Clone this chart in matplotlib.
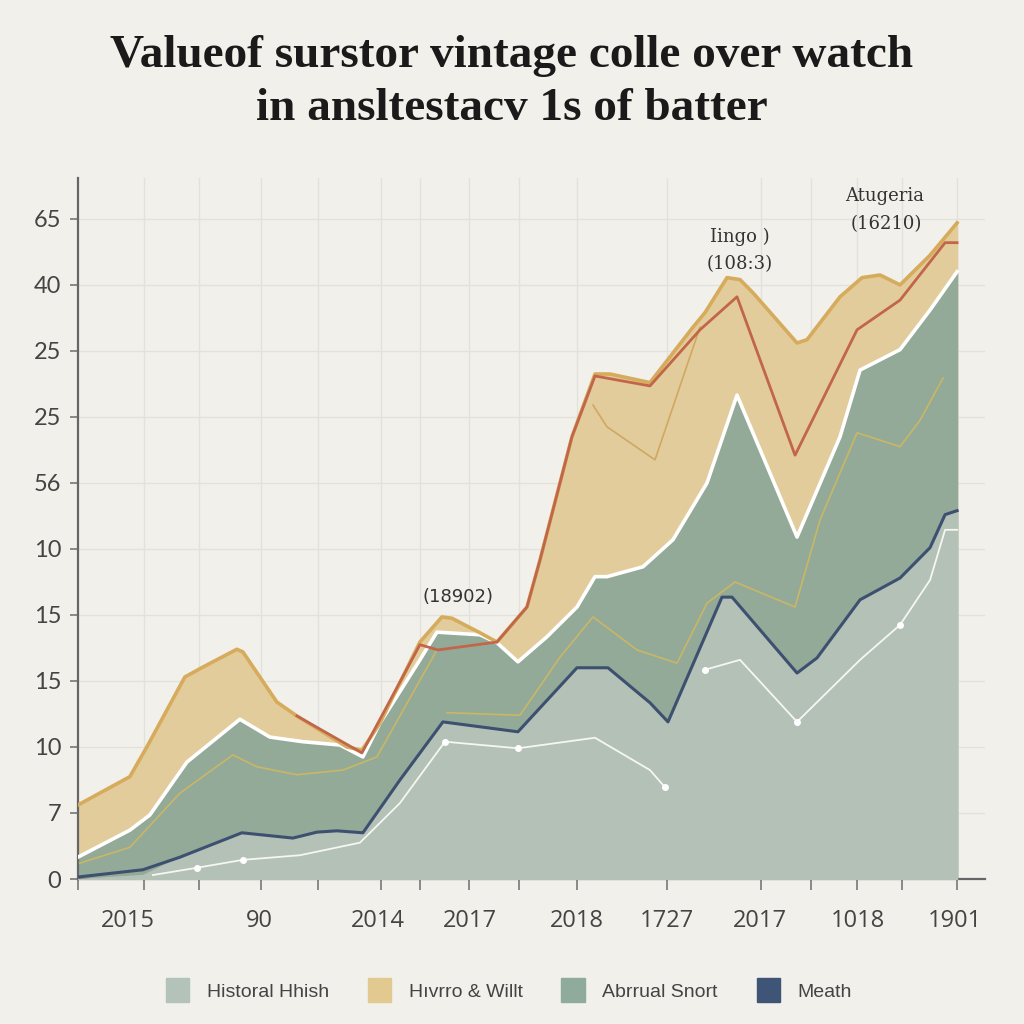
import matplotlib.pyplot as plt
import matplotlib.patches as mpatches
import matplotlib.transforms as mtransforms

# --- data (x in "track" units, y in tick-index units) ---
tan_x = [0, 5.2, 6.9, 10.7, 12.5, 15.9, 16.5, 19.9, 21.9, 26.9, 28.4, 30.2, 34.2, 36.4, 37.4,
         40.2, 41.9, 44.9, 46.2, 49.4, 51.7, 53.2, 57.2, 61.5, 62.7, 64.9, 66.2, 67.5, 71.9,
         72.9, 76.2, 78.4, 80.2, 82.2, 85.2, 87.9]
tan_y = [1.12, 1.55, 2.0, 3.06, 3.21, 3.48, 3.44, 2.68, 2.47, 2.0, 1.95, 2.36, 3.59, 3.97, 3.95,
         3.73, 3.59, 4.12, 4.83, 6.70, 7.65, 7.65, 7.52, 8.36, 8.58, 9.11, 9.08, 8.88, 8.12,
         8.17, 8.82, 9.11, 9.15, 9.0, 9.45, 9.94]

green_x = [0, 5.2, 7.2, 10.9, 16.2, 19.2, 22.5, 26.2, 28.5, 30.2, 34.2, 35.9, 40.2, 41.9, 44.0,
           46.9, 49.9, 51.7, 52.9, 56.5, 59.5, 62.9, 65.9, 71.9, 76.2, 78.2, 82.2, 85.2, 87.9]
green_y = [0.33, 0.74, 0.97, 1.77, 2.42, 2.15, 2.08, 2.03, 1.85, 2.36, 3.32, 3.74, 3.70, 3.58, 3.29,
           3.67, 4.12, 4.58, 4.58, 4.73, 5.14, 6.0, 7.33, 5.18, 6.70, 7.71, 8.02, 8.62, 9.20]

red_x = [21.9, 28.4, 34.2, 36.0, 41.9, 44.9, 46.2, 49.4, 51.7, 57.2, 62.2, 65.9, 71.7, 77.9,
         82.2, 86.7, 87.9]
red_y = [2.47, 1.91, 3.55, 3.47, 3.59, 4.12, 4.83, 6.70, 7.62, 7.47, 8.32, 8.82, 6.42, 8.32,
         8.77, 9.64, 9.64]

navy_x = [0, 6.5, 10.2, 16.4, 21.5, 23.9, 25.9, 28.5, 32.2, 36.5, 44.0, 49.9, 53.0, 57.2, 59.0,
          64.4, 65.4, 71.9, 73.9, 78.2, 82.2, 85.2, 86.7, 87.9]
navy_y = [0.03, 0.14, 0.33, 0.70, 0.62, 0.71, 0.73, 0.70, 1.5, 2.38, 2.23, 3.20, 3.20, 2.67, 2.38,
          4.27, 4.27, 3.12, 3.35, 4.23, 4.56, 5.02, 5.52, 5.58]

hist_x = [0, 6.5] + navy_x[2:]
hist_y = [0.0, 0.06] + navy_y[2:]

white1_x = [7.5, 11.9, 16.5, 22.2, 28.2, 32.2, 36.7, 44.0, 51.7, 57.2, 58.7]
white1_y = [0.06, 0.17, 0.29, 0.36, 0.55, 1.15, 2.08, 1.98, 2.14, 1.65, 1.39]
white2_x = [62.7, 66.2, 71.9, 78.2, 82.2, 85.2, 86.7, 87.9]
white2_y = [3.17, 3.32, 2.38, 3.32, 3.85, 4.53, 5.29, 5.29]

olive1_x = [0.2, 5.2, 10.2, 15.5, 17.9, 21.9, 26.5, 29.9, 35.9]
olive1_y = [0.24, 0.48, 1.30, 1.88, 1.70, 1.58, 1.65, 1.85, 3.47]
olive2_x = [36.9, 44.2, 48.2, 51.5, 55.9, 59.9, 62.9, 65.7, 71.7, 74.2, 77.9, 82.2, 84.2, 86.5]
olive2_y = [2.52, 2.48, 3.36, 3.97, 3.47, 3.27, 4.18, 4.5, 4.12, 5.44, 6.76, 6.55, 6.95, 7.59]
olive3_x = [51.5, 52.9, 57.7, 62.2]
olive3_y = [7.18, 6.85, 6.35, 8.36]

ytick_labels = ['0', '7', '10', '15', '15', '10', '56', '25', '25', '40', '65']
xtick_pos = [0, 6.6, 12.1, 18.3, 24.0, 30.3, 34.2, 39.1, 44.1, 49.9, 58.9, 68.3, 73.3, 77.9, 82.4, 87.9]
xlabel_pos = [5.0, 18.1, 30.0, 39.2, 49.9, 58.9, 68.2, 78.0, 87.7]
xlabels = ['2015', '90', '2014', '2017', '2018', '1727', '2017', '1018', '1901']

series = ['Historal Hhish', 'Hıvrro & Willt', 'Abrrual Snort', 'Meath']
colors = ['#b3c3ba', '#e2c98f', '#8fab9b', '#3f5577']

bg = '#f1f0eb'
fig = plt.figure(figsize=(10.24, 10.24), dpi=100, facecolor=bg)
ax = fig.add_axes([0.076, 0.1416, 0.886, 0.6846], facecolor=bg)

# grid
for i in range(len(ytick_labels)):
    ax.axhline(i, color='#e2e1dc', lw=1, zorder=0)
for xp in xtick_pos[1:]:
    ax.axvline(xp, color='#e2e1dc', lw=1, zorder=0)

# areas
ax.fill_between(tan_x, 0, tan_y, color='#e3cc9b', zorder=1)
ax.plot(tan_x, tan_y, color='#d6ab5c', lw=2.6, zorder=5, solid_joinstyle='round')
ax.fill_between(green_x, 0, green_y, color='#93aa98', zorder=2)
ax.plot(green_x, green_y, color='white', lw=2.6, zorder=3)
ax.fill_between(hist_x, 0, hist_y, color='#b4c1b7', zorder=3)

# lines
ax.plot(olive1_x, olive1_y, color='#c9b765', lw=1.2, zorder=3.5)
ax.plot(olive2_x, olive2_y, color='#c9b765', lw=1.2, zorder=3.5)
ax.plot(olive3_x, olive3_y, color='#cfa862', lw=1.2, zorder=2)
ax.plot(white1_x, white1_y, color='#f6f6f2', lw=1.3, zorder=4)
ax.plot(white2_x, white2_y, color='#f6f6f2', lw=1.3, zorder=4)
ax.plot([white1_x[1], white1_x[2], white1_x[6], white1_x[7], white1_x[10], white2_x[0], white2_x[2],
         white2_x[4]],
        [white1_y[1], white1_y[2], white1_y[6], white1_y[7], white1_y[10], white2_y[0], white2_y[2],
         white2_y[4]],
        'o', color='white', ms=4, zorder=6)
ax.plot(navy_x, navy_y, color='#3d5070', lw=2.2, zorder=5)
ax.plot(red_x, red_y, color='#c2664a', lw=2.0, zorder=6)

# annotations
ax.text(38.0, 4.27, '(18902)', ha='center', va='center', fontsize=13, color='#333333',
        family='DejaVu Sans')
ax.text(66.2, 9.73, 'Iingo )', ha='center', va='center', fontsize=13, color='#333333',
        family='DejaVu Serif')
ax.text(66.2, 9.32, '(108:3)', ha='center', va='center', fontsize=13, color='#333333',
        family='DejaVu Serif')
ax.text(80.7, 10.35, 'Atugeria', ha='center', va='center', fontsize=13, color='#333333',
        family='DejaVu Serif')
ax.text(80.8, 9.92, '(16210)', ha='center', va='center', fontsize=13, color='#333333',
        family='DejaVu Serif')

# axes
ax.set_xlim(0, 90.7)
ax.set_ylim(0, 10.62)
ax.set_yticks(range(len(ytick_labels)))
ax.set_yticklabels(ytick_labels, fontsize=17, color='#444444', family='Lato')
ax.set_xticks(xtick_pos)
ax.set_xticklabels([''] * len(xtick_pos))
ax.tick_params(axis='x', which='major', length=8, width=1.2, color='#777777')
ax.tick_params(axis='y', which='major', length=6, width=1.2, color='#777777', pad=6)

# x labels placed under the axis (some sit on ticks, some between)
trans = mtransforms.blended_transform_factory(ax.transData, fig.transFigure)
for xp, lab in zip(xlabel_pos, xlabels):
    ax.text(xp, 0.1006, lab, transform=trans, ha='center', va='center', fontsize=17,
            color='#444444', family='Open Sans', clip_on=False)

for s in ['top', 'right']:
    ax.spines[s].set_visible(False)
for s in ['left', 'bottom']:
    ax.spines[s].set_color('#666666')
    ax.spines[s].set_linewidth(1.6)

# title
fig.text(0.5, 0.9346, 'Valueof surstor vintage colle over watch', ha='center', va='baseline',
         fontsize=34, family='Liberation Serif', weight='bold', color='#1a1a1a')
fig.text(0.5, 0.8828, 'in ansltestacv 1s of batter', ha='center', va='baseline',
         fontsize=34, family='Liberation Serif', weight='bold', color='#1a1a1a')

# legend
handles = [mpatches.Patch(color=c, label=l) for c, l in zip(colors, series)]
fig.legend(handles=handles, loc='center', bbox_to_anchor=(0.497, 0.033), ncol=4, frameon=False,
           handlelength=1.2, handleheight=1.5, columnspacing=2.0, handletextpad=0.9,
           prop={'family': 'Liberation Sans', 'size': 14}, labelcolor='#444444')

fig.savefig('out.png', dpi=100, facecolor=bg)
